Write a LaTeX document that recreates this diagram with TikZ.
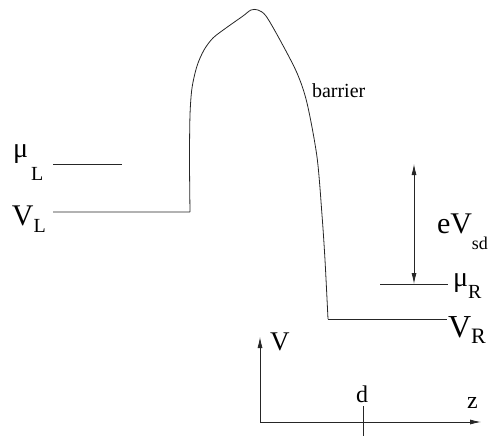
\documentclass[tikz,border=0pt]{standalone}
\usepackage{fontspec}
\setmainfont{Liberation Serif}
\usetikzlibrary{arrows.meta}
\tikzset{
  wire/.style={line width=0.8pt, draw=black!85},
  dbl/.style={wire, {Latex[length=11pt,width=5pt]}-{Latex[length=11pt,width=5pt]}},
  axis/.style={wire, -{Latex[length=11pt,width=5pt]}},
  lbl/.style={anchor=base west, inner sep=0pt, outer sep=0pt},
}
\newcommand{\bigf}{\fontsize{30}{32}\selectfont}
\newcommand{\subf}{\fontsize{20}{22}\selectfont}
\begin{document}
\begin{tikzpicture}[x=1pt,y=-1pt]
\useasboundingbox (0,0) rectangle (490,436);
% labels
\node[lbl] (muL) at (13,157) {{\fontsize{28}{30}\selectfont μ}\hspace{3pt}\raisebox{-24pt}{\subf L}};
\node[lbl] (VL) at (12,225) {{\bigf V}\raisebox{-7pt}{\subf L}};
\node[lbl] (eV) at (437,233) {{\bigf eV}\raisebox{-16pt}{\fontsize{18}{20}\selectfont sd}};
\node[lbl] (muR) at (453,286) {{\fontsize{28}{30}\selectfont μ}\raisebox{-12pt}{\subf R}};
\node[lbl] (VR) at (448,337) {{\fontsize{32}{34}\selectfont V}\raisebox{-6pt}{\fontsize{22}{24}\selectfont R}};
\node[lbl] (bar) at (312,98) {\fontsize{20}{22}\selectfont barrier};
\node[lbl] (Vax) at (270,350) {\fontsize{27}{29}\selectfont V};
\node[anchor=base, inner sep=0pt] (d) at (362,402) {\fontsize{24}{26}\selectfont d};
\node[lbl] (zax) at (467,408) {\fontsize{24}{26}\selectfont z};
% coordinates
\coordinate (muLa) at (53,164);
\coordinate (muLb) at (122,164);
\coordinate (VLa) at (53,212);
\coordinate (VLb) at (190,212);
\coordinate (VRa) at (328,319);
\coordinate (VRb) at (447,319);
\coordinate (muRa) at (380,284);
\coordinate (muRb) at (448,284);
\coordinate (arrT) at (414,164);
\coordinate (arrB) at (414,284);
\coordinate (O) at (260,422);
\coordinate (Vtip) at (260,337);
\coordinate (ztip) at (481,422);
\coordinate (tickT) at (363,406);
\coordinate (tickB) at (363,436);
% levels
\draw[wire] (muLa) -- (muLb);
\draw[wire] (muRa) -- (muRb);
\draw[wire] (VRa) -- (VRb);
% barrier profile
\draw[wire, line join=round] (VLa) -- (VLb)
  plot[smooth, tension=0.5] coordinates {(190,212) (189.5,160) (190,115) (192,88) (197,66) (204,50) (213,38) (226,28) (243,16) (251,10) (258,10) (266,16) (280,40) (297,73) (307,103) (317,157) (322,215) (325,260) (328,319)};
% eVsd arrow
\draw[dbl] (arrT) -- (arrB);
% axes
\draw[axis] (O) -- (Vtip);
\draw[axis] (O) -- (ztip);
\draw[wire] (tickT) -- (tickB);
\end{tikzpicture}
\end{document}
